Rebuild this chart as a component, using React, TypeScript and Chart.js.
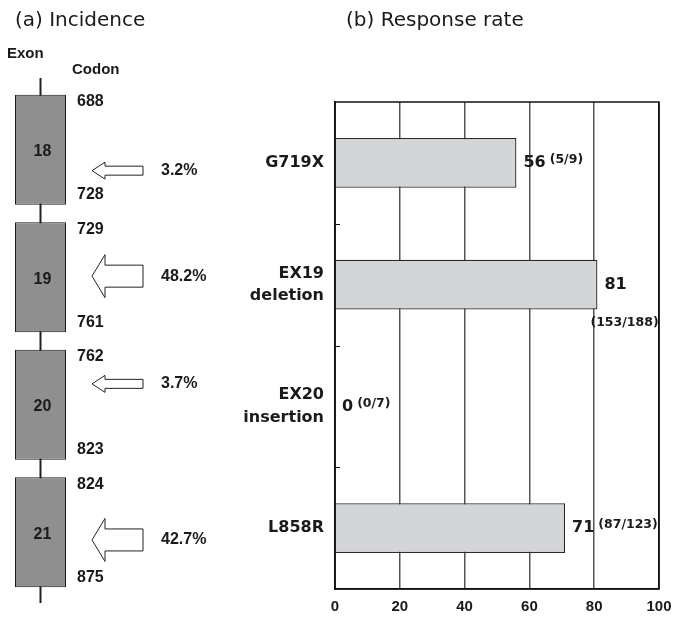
import React, { useEffect, useRef } from "react";
import { Chart, registerables } from "chart.js";

Chart.register(...registerables);

// ---------- data: (a) Incidence ----------
const EXONS = ["18", "19", "20", "21"];
const CODON_START = [688, 729, 762, 824];
const CODON_END = [728, 761, 823, 875];
const INCIDENCE = [3.2, 48.2, 3.7, 42.7];

// ---------- data: (b) Response rate ----------
const MUTATIONS = [["G719X"], ["EX19", "deletion"], ["EX20", "insertion"], ["L858R"]];
const RESPONSE_RATE = [56, 81, 0, 71];
const RESPONDERS = [5, 153, 0, 87];
const PATIENTS = [9, 188, 7, 123];
const X_TICKS = [0, 20, 40, 60, 80, 100];

// ---------- style constants ----------
const ARROW_POS = [0.69, 0.49, 0.31, 0.57];
const SANS = '"Liberation Sans", Arial, sans-serif';
const VERD = '"DejaVu Sans", Verdana, sans-serif';
const INK = "#1a1a1a";

const exonPlugin = {
  id: "exonPlugin",
  beforeDatasetsDraw(chart: any) {
    const { ctx, chartArea } = chart;
    const x = (chartArea.left + chartArea.right) / 2;
    ctx.save();
    ctx.strokeStyle = "#222";
    ctx.lineWidth = 2;
    ctx.beginPath();
    ctx.moveTo(x, chartArea.top - 8);
    ctx.lineTo(x, chartArea.bottom + 7);
    ctx.stroke();
    ctx.restore();
  },
  afterDatasetsDraw(chart: any) {
    const { ctx } = chart;
    const meta = chart.getDatasetMeta(0);
    ctx.save();
    meta.data.forEach((bar: any, i: number) => {
      const { x, y, base, height } = bar.getProps(["x", "y", "base", "height"], true);
      const left = Math.min(x, base);
      const right = Math.max(x, base);
      const top = y - height / 2;
      const bottom = y + height / 2;
      ctx.fillStyle = INK;
      ctx.textBaseline = "middle";
      // exon number
      ctx.textAlign = "center";
      ctx.font = `bold 16px ${SANS}`;
      ctx.fillText(EXONS[i], (left + right) / 2 + 2, y + 2);
      // codons
      ctx.textAlign = "left";
      ctx.fillText(String(CODON_START[i]), right + 11, top + 7);
      ctx.fillText(String(CODON_END[i]), right + 11, bottom - 10);
      // arrow
      const ay = top + ARROW_POS[i] * height;
      const big = INCIDENCE[i] >= 10;
      const sh = big ? 11 : 4.5;
      const hh = big ? 21.5 : 8.5;
      const tip = right + 26;
      const hb = tip + 13;
      const tail = right + 77;
      ctx.beginPath();
      ctx.moveTo(tip, ay);
      ctx.lineTo(hb, ay - hh);
      ctx.lineTo(hb, ay - sh);
      ctx.lineTo(tail, ay - sh);
      ctx.lineTo(tail, ay + sh);
      ctx.lineTo(hb, ay + sh);
      ctx.lineTo(hb, ay + hh);
      ctx.closePath();
      ctx.fillStyle = "#ffffff";
      ctx.fill();
      ctx.strokeStyle = "#222";
      ctx.lineWidth = 1;
      ctx.stroke();
      // incidence label
      ctx.fillStyle = INK;
      ctx.font = `bold 16px ${SANS}`;
      ctx.fillText(`${INCIDENCE[i].toFixed(1)}%`, right + 95, ay);
    });
    ctx.restore();
  },
};

const responsePlugin = {
  id: "responsePlugin",
  afterDraw(chart: any) {
    const { ctx, chartArea: ca } = chart;
    ctx.save();
    ctx.strokeStyle = "#111";
    ctx.lineWidth = 1.5;
    ctx.strokeRect(ca.left, ca.top, ca.right - ca.left, ca.bottom - ca.top);
    // inner tick marks at category boundaries
    const ys = chart.scales.y;
    ctx.lineWidth = 1;
    for (let i = 1; i < MUTATIONS.length; i++) {
      const y = Math.round((ys.getPixelForValue(i - 1) + ys.getPixelForValue(i)) / 2) + 0.5;
      ctx.beginPath();
      ctx.moveTo(ca.left, y);
      ctx.lineTo(ca.left + 5, y);
      ctx.stroke();
    }
    // value labels
    const meta = chart.getDatasetMeta(0);
    ctx.fillStyle = INK;
    ctx.textBaseline = "middle";
    ctx.textAlign = "left";
    meta.data.forEach((bar: any, i: number) => {
      const { x, y, height } = bar.getProps(["x", "y", "height"], true);
      const main = String(RESPONSE_RATE[i]);
      const sub = `(${RESPONDERS[i]}/${PATIENTS[i]})`;
      ctx.font = `bold 16px ${VERD}`;
      const mx = x + 7;
      ctx.fillText(main, mx, y);
      const mw = ctx.measureText(main).width;
      ctx.font = `bold 12.5px ${VERD}`;
      const sw = ctx.measureText(sub).width;
      let sx = mx + mw + 4;
      let sy = y - 3;
      if (sx + sw > ca.right + 6) {
        sx = x - 7;
        sy = y + height / 2 + 13;
      }
      ctx.fillText(sub, sx, sy);
    });
    ctx.restore();
  },
};

export default function App() {
  const leftRef = useRef<HTMLCanvasElement>(null);
  const rightRef = useRef<HTMLCanvasElement>(null);

  useEffect(() => {
    const left = new Chart(leftRef.current!, {
      type: "bar",
      data: {
        labels: EXONS,
        datasets: [
          {
            data: EXONS.map(() => [0, 1]) as any,
            backgroundColor: "#8f8f8f",
            borderColor: "#1a1a1a",
            borderWidth: 1,
            borderSkipped: false,
            barPercentage: 0.863,
            categoryPercentage: 1,
          },
        ],
      },
      options: {
        indexAxis: "y",
        responsive: false,
        animation: false,
        devicePixelRatio: 1,
        layout: { padding: { left: 15, right: 174, top: 86, bottom: 21 } },
        scales: {
          x: { type: "linear", min: 0, max: 1, display: false },
          y: { type: "category", display: false },
        },
        plugins: { legend: { display: false }, tooltip: { enabled: false } },
      },
      plugins: [exonPlugin],
    });

    const right = new Chart(rightRef.current!, {
      type: "bar",
      data: {
        labels: MUTATIONS as any,
        datasets: [
          {
            data: RESPONSE_RATE,
            backgroundColor: "#d4d5d7",
            borderColor: "#2a2a2a",
            borderWidth: 1.3,
            borderSkipped: "start",
            barPercentage: 0.41,
            categoryPercentage: 1,
          },
        ],
      },
      options: {
        indexAxis: "y",
        responsive: false,
        animation: false,
        devicePixelRatio: 1,
        layout: { padding: { left: 0, right: 14, top: 102, bottom: 0 } },
        scales: {
          x: {
            type: "linear",
            min: 0,
            max: 100,
            afterBuildTicks: (s: any) => {
              s.ticks = X_TICKS.map((v) => ({ value: v }));
            },
            afterFit: (s: any) => {
              s.height = 28;
              s.paddingLeft = 0;
              s.paddingRight = 0;
            },
            ticks: {
              color: INK,
              padding: 9,
              maxRotation: 0,
              font: { family: SANS, weight: "bold", size: 15 },
            },
            grid: {
              color: (c: any) => (c.tick && (c.tick.value === 0 || c.tick.value === 100) ? "#111" : "#555"),
              lineWidth: 1.5,
              drawTicks: false,
              tickLength: 0,
            },
            border: { display: true, color: "#111", width: 1.5 },
          },
          y: {
            type: "category",
            afterFit: (s: any) => {
              s.width = 95;
            },
            ticks: {
              color: INK,
              padding: 11,
              font: { family: VERD, weight: "bold", size: 16, lineHeight: 1.38 },
            },
            grid: { display: false, drawTicks: false, tickLength: 0 },
            border: { display: true, color: "#111", width: 1.5 },
          },
        },
        plugins: { legend: { display: false }, tooltip: { enabled: false } },
      },
      plugins: [responsePlugin],
    });

    return () => {
      left.destroy();
      right.destroy();
    };
  }, []);

  const title: React.CSSProperties = {
    position: "absolute",
    fontFamily: VERD,
    fontSize: 20,
    lineHeight: "24px",
    color: INK,
    whiteSpace: "nowrap",
  };
  const head: React.CSSProperties = {
    position: "absolute",
    fontFamily: SANS,
    fontWeight: "bold",
    fontSize: 15,
    lineHeight: "18px",
    color: INK,
    whiteSpace: "nowrap",
  };

  return (
    <div
      style={{
        position: "absolute",
        left: 0,
        top: 0,
        width: 673,
        height: 617,
        background: "#fff",
        overflow: "hidden",
      }}
    >
      <canvas
        ref={leftRef}
        width={240}
        height={617}
        style={{ position: "absolute", left: 0, top: 0, width: 240, height: 617 }}
      />
      <canvas
        ref={rightRef}
        width={433}
        height={617}
        style={{ position: "absolute", left: 240, top: 0, width: 433, height: 617 }}
      />
      <div style={{ ...title, left: 15, top: 7 }}>(a) Incidence</div>
      <div style={{ ...title, left: 346, top: 7 }}>(b) Response rate</div>
      <div style={{ ...head, left: 7, top: 44 }}>Exon</div>
      <div style={{ ...head, left: 72, top: 60 }}>Codon</div>
    </div>
  );
}
